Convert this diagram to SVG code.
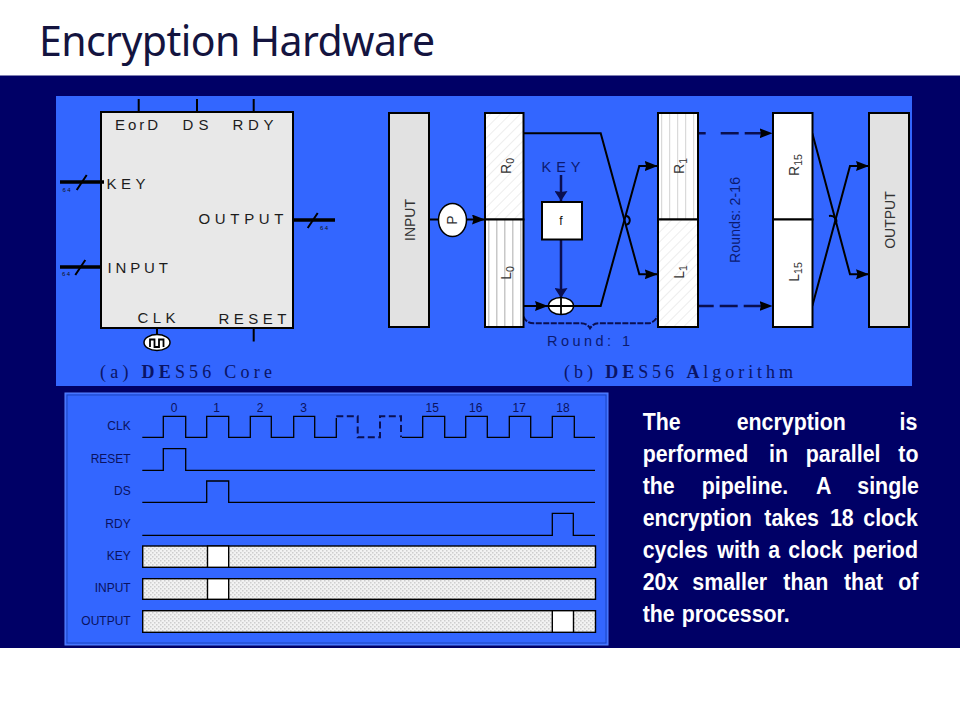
<svg xmlns="http://www.w3.org/2000/svg" width="960" height="720" viewBox="0 0 960 720">
<style>
.s{font-family:"Liberation Sans",Arial,sans-serif}
.core{font-family:"Liberation Sans",Arial,sans-serif;font-size:15px;fill:#1c1c1c}
.dk{font-family:"Liberation Sans",Arial,sans-serif;font-size:14.500px;fill:#0b1a70}
.cap{font-family:"Liberation Serif","Times New Roman",serif;font-size:18px;fill:#0a1466}
.tiny{font-family:"Liberation Sans",Arial,sans-serif;font-size:6px;fill:#111;letter-spacing:1.500px}
.rot{font-family:"Liberation Sans",Arial,sans-serif;font-size:14px;fill:#333;text-anchor:middle}
.sub{font-size:10.500px}
.lab{font-family:"Liberation Sans",Arial,sans-serif;font-size:12px;fill:#0a1260;text-anchor:end}
.num{font-family:"Liberation Sans",Arial,sans-serif;font-size:12px;fill:#0a1260;text-anchor:middle}
.body{font-family:"Liberation Sans",Arial,sans-serif;font-size:24px;font-weight:bold;fill:#fff}
.box{stroke:#000;stroke-width:2}
.ln{fill:none;stroke:#000;stroke-width:2}
.ln2{fill:none;stroke:#0a0f50;stroke-width:2.500}
.wave{fill:none;stroke:#000;stroke-width:1.300}
.bus{fill:none;stroke:#000;stroke-width:3.600}
.bar{stroke:#000;stroke-width:1.400}
</style>
<defs>
<pattern id="diag" width="7" height="7" patternUnits="userSpaceOnUse" patternTransform="rotate(45)"><rect width="7" height="7" fill="#fff"/><line x1="0" y1="0" x2="0" y2="7" stroke="#dcdcdc" stroke-width="1"/></pattern>
<pattern id="vert" width="8" height="8" patternUnits="userSpaceOnUse" x="488"><rect width="8" height="8" fill="#fff"/><rect x="0" width="1.500" height="8" fill="#c8c8c8"/></pattern>
<pattern id="vert2" width="8" height="8" patternUnits="userSpaceOnUse" x="661"><rect width="8" height="8" fill="#fff"/><rect x="0" width="1.200" height="8" fill="#dadada"/></pattern>
<pattern id="dots" width="4" height="4" patternUnits="userSpaceOnUse"><rect width="4" height="4" fill="#f2f2f2"/><rect width="1.500" height="1.500" fill="#cdcdcd"/><rect x="2" y="2" width="1.500" height="1.500" fill="#cdcdcd"/></pattern>
<marker id="ah" markerWidth="13" markerHeight="10" refX="13" refY="5" orient="auto" markerUnits="userSpaceOnUse"><path d="M0 0L13 5L0 10L1.500 5Z" fill="#000"/></marker>
<marker id="ah2" markerWidth="10" markerHeight="13" refX="10" refY="6.500" orient="auto" markerUnits="userSpaceOnUse"><path d="M0 0L10 6.500L0 13L1 6.500Z" fill="#0a0f50"/></marker>
</defs>
<rect width="960" height="720" fill="#fff"/>
<rect y="75.500" width="960" height="572.500" fill="#000066"/>
<text x="39" y="56" font-family="'Noto Sans','Open Sans',sans-serif" font-size="41" fill="#14143f" textLength="396">Encryption Hardware</text>
<rect x="56" y="96" width="856" height="290" fill="#3366ff"/>
<g id="core">
<rect class="box" x="101" y="112" width="192" height="216" fill="#e8e8e8"/>
<text class="core" x="115" y="130" textLength="43">EorD</text>
<text class="core" x="182.500" y="130" textLength="26">DS</text>
<text class="core" x="232.500" y="130" textLength="41">RDY</text>
<text class="core" x="106.500" y="189" textLength="39">KEY</text>
<text class="core" x="198.500" y="224" textLength="85">OUTPUT</text>
<text class="core" x="107.500" y="273" textLength="60.500">INPUT</text>
<text class="core" x="137.500" y="323" textLength="38">CLK</text>
<text class="core" x="218.500" y="323.500" textLength="68">RESET</text>
<path class="ln" d="M138.700 99V112M197 99V112M253.700 99V112M253.700 328V341.500M157 328V336"/>
<path class="bus" d="M60 182H104M60 267H102M293 220H335"/>
<path class="ln" d="M76.700 190L86.700 175M75.300 275L85.300 260M307.700 228L317.700 213"/>
<text class="tiny" x="62.500" y="191.500">64</text>
<text class="tiny" x="62" y="275.500">64</text>
<text class="tiny" x="320" y="229.500">64</text>
<ellipse cx="157" cy="342.500" rx="13" ry="8" fill="#fff" stroke="#000" stroke-width="1.500"/>
<path d="M150 347V339.500H154.500V347H159V339.500H163.500V347" fill="none" stroke="#000" stroke-width="1.800"/>
</g>
<text id="cap-a" class="cap" x="100" y="377.500" textLength="172">(a) <tspan font-weight="bold">DE</tspan>S56 Core</text>
<text id="cap-b" class="cap" x="564" y="377.500" textLength="229">(b) <tspan font-weight="bold">DE</tspan>S56 <tspan font-weight="bold">A</tspan>lgorithm</text>
<g id="connectors">
<path class="ln" d="M428.700 219.500H485" marker-end="url(#ah)"/>
<path class="ln" d="M523.300 133.300H600.700L639.300 274.300H657.700" marker-end="url(#ah)"/>
<path class="ln" d="M523.300 306H548" marker-end="url(#ah)"/>
<path class="ln" d="M573 306H600.700L639.300 166H657.700" marker-end="url(#ah)"/>
<path class="ln" d="M625.500 215.700A5 4.700 0 0 1 625.500 225"/>
<path class="ln2" d="M561 175V201" marker-end="url(#ah2)"/>
<path class="ln2" d="M561 239.500V298" marker-end="url(#ah2)"/>
<path fill="none" stroke="#0a0f50" stroke-width="2" stroke-dasharray="6 1.500" d="M523.500 316.500Q526 323.300 534 323.300H581Q587 323.300 590 328.300Q593 323.300 599 323.300H648Q654 323.300 658 315.500"/>
<path class="ln2" stroke-dasharray="8 15 18 6 22" d="M697.700 133.300H772.500" marker-end="url(#ah)"/>
<path class="ln2" stroke-dasharray="16 6 18 6 22" d="M697.700 306H772.500" marker-end="url(#ah)"/>
<path class="ln" d="M812.300 133.300L850 274.300H869" marker-end="url(#ah)"/>
<path class="ln" d="M812.300 306L850 166H869" marker-end="url(#ah)"/>
<path class="ln" d="M835 224A6 5 0 0 0 829 216"/>
</g>
<g id="input"><rect class="box" x="389" y="113" width="40" height="214" fill="#e2e2e2"/><text class="rot" transform="translate(415,220) rotate(-90)">INPUT</text></g>
<g id="p"><ellipse cx="452.500" cy="220" rx="14" ry="16.500" fill="#fff" stroke="#000" stroke-width="1.500"/><text class="rot" transform="translate(457,220) rotate(-90)">P</text></g>
<g id="r0l0"><rect class="box" x="485" y="113" width="38.500" height="106.500" fill="url(#diag)"/><rect class="box" x="485" y="219.500" width="38.500" height="107.500" fill="url(#vert)"/>
<text class="rot" transform="translate(511,166) rotate(-90)">R<tspan class="sub" dy="3">0</tspan></text>
<text class="rot" transform="translate(511,273) rotate(-90)">L<tspan class="sub" dy="3">0</tspan></text></g>
<text id="key-label" class="dk" x="541.500" y="171.500" textLength="39">KEY</text>
<g id="f"><rect class="box" x="542" y="202" width="40" height="37.500" fill="#fff"/><text x="561" y="225" class="s" font-size="12" text-anchor="middle" fill="#111">f</text></g>
<g id="xor"><ellipse cx="561" cy="306" rx="12.500" ry="8.500" fill="#fff" stroke="#000" stroke-width="1.500"/><path d="M548.500 306H573.500M561 297.500V314.500" stroke="#000" stroke-width="1.800"/></g>
<text id="round1" class="dk" x="547" y="345.500" textLength="83">Round: 1</text>
<g id="r1l1"><rect class="box" x="658" y="113" width="40" height="106.500" fill="url(#vert2)"/><rect class="box" x="658" y="219.500" width="40" height="107.500" fill="url(#diag)"/>
<text class="rot" transform="translate(684,166) rotate(-90)">R<tspan class="sub" dy="3">1</tspan></text>
<text class="rot" transform="translate(684,272) rotate(-90)">L<tspan class="sub" dy="3">1</tspan></text></g>
<text id="rounds" class="rot" style="fill:#0b1a70" transform="translate(740,220) rotate(-90)" textLength="86">Rounds: 2-16</text>
<g id="r15l15"><rect class="box" x="773" y="113" width="39.500" height="106.500" fill="#fff"/><rect class="box" x="773" y="219.500" width="39.500" height="107.500" fill="#fff"/>
<text class="rot" transform="translate(799,165) rotate(-90)">R<tspan class="sub" dy="3">15</tspan></text>
<text class="rot" transform="translate(799,272) rotate(-90)">L<tspan class="sub" dy="3">15</tspan></text></g>
<g id="output"><rect class="box" x="869" y="113" width="40" height="214" fill="#e2e2e2"/><text class="rot" transform="translate(895,220) rotate(-90)">OUTPUT</text></g>
<g id="timing">
<rect x="65" y="393" width="543" height="252" fill="#3366ff" stroke="#5a86ff" stroke-width="1"/>
<rect x="67" y="395" width="539" height="248" fill="none" stroke="#1a3fb0" stroke-width="0.800"/>
<text class="lab" x="130.700" y="430">CLK</text>
<text class="lab" x="130.700" y="462.500">RESET</text>
<text class="lab" x="130.700" y="494.500">DS</text>
<text class="lab" x="130.700" y="527.500">RDY</text>
<text class="lab" x="130.700" y="559.500">KEY</text>
<text class="lab" x="130.700" y="591.500">INPUT</text>
<text class="lab" x="130.700" y="624.500">OUTPUT</text>
<text class="num" x="174" y="412">0</text><text class="num" x="216.700" y="412">1</text><text class="num" x="260" y="412">2</text><text class="num" x="303.700" y="412">3</text><text class="num" x="432.300" y="412">15</text><text class="num" x="475.700" y="412">16</text><text class="num" x="519.300" y="412">17</text><text class="num" x="563" y="412">18</text>
<path class="wave" d="M142.300 437.300H163.300V416.300H185.700V437.300H206.700V416.300H228.700V437.300H250.300V416.300H271.300V437.300H293.700V416.300H314.700V437.300H336.300V418"/>
<path fill="none" stroke="#0a0f50" stroke-width="2" stroke-dasharray="7 3.500" d="M336.300 416.300H357.700V437.300H380V416.300H401V437.300"/>
<path class="wave" d="M402 437.300H422.700V416.300H444.700V437.300H465.700V416.300H487.300V437.300H509.300V416.300H530.700V437.300H552.300V416.300H574.300V437.300H595"/>
<path class="wave" d="M142.300 470.300H163.300V448.700H185.700V470.300H595"/>
<path class="wave" d="M142.300 502.300H206.700V481H228.700V502.300H595"/>
<path class="wave" d="M142.300 535.300H552.300V513.300H573.300V535.300H595"/>
<rect class="bar" x="142.700" y="546" width="452.800" height="21.300" fill="url(#dots)"/>
<rect class="bar" x="207.500" y="546" width="21.200" height="21.300" fill="#fff"/>
<rect class="bar" x="142.700" y="578.700" width="452.800" height="20.600" fill="url(#dots)"/>
<rect class="bar" x="207.500" y="578.700" width="21.200" height="20.600" fill="#fff"/>
<rect class="bar" x="142.700" y="610.700" width="452.800" height="21.600" fill="url(#dots)"/>
<rect class="bar" x="552.300" y="610.700" width="21.200" height="21.600" fill="#fff"/>
</g>
<g id="body-text" transform="scale(.89 1)">
<text class="body" y="430.500"><tspan x="722.130">The</tspan><tspan x="827.750">encryption</tspan><tspan x="1010.670">is</tspan></text>
<text class="body" y="462.500"><tspan x="722.130">performed</tspan><tspan x="864.040">in</tspan><tspan x="905.280">parallel</tspan><tspan x="1009.330">to</tspan></text>
<text class="body" y="494.500"><tspan x="722.130">the</tspan><tspan x="788.430">pipeline.</tspan><tspan x="916.850">A</tspan><tspan x="963.260">single</tspan></text>
<text class="body" y="526.500"><tspan x="722.130">encryption</tspan><tspan x="858.760">takes</tspan><tspan x="932.580">18</tspan><tspan x="970">clock</tspan></text>
<text class="body" y="558.500"><tspan x="722.130">cycles</tspan><tspan x="805.960">with</tspan><tspan x="863.260">a</tspan><tspan x="885.730">clock</tspan><tspan x="958.090">period</tspan></text>
<text class="body" y="590.500"><tspan x="722.130">20x</tspan><tspan x="777.870">smaller</tspan><tspan x="880.110">than</tspan><tspan x="948.310">that</tspan><tspan x="1009.330">of</tspan></text>
<text class="body" y="622.500"><tspan x="722.130">the</tspan><tspan x="765.960">processor.</tspan></text>
</g>
</svg>
